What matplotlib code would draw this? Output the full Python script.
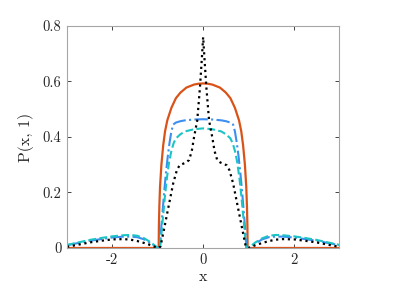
import numpy as np
import matplotlib
matplotlib.use("Agg")
import matplotlib.pyplot as plt

plt.rcParams['font.family'] = 'serif'
plt.rcParams['font.serif'] = ['cmr10', 'DejaVu Serif']
plt.rcParams['axes.formatter.use_mathtext'] = True

# side lobes (left half, x from -3 to -1), mirrored for x > 1
lobe_x = [-3.0, -2.75, -2.5, -2.25, -2.0, -1.75, -1.6, -1.45, -1.3, -1.15, -1.0]
lobe_cyan = [0.011, 0.020, 0.029, 0.036, 0.042, 0.046, 0.047, 0.044, 0.035, 0.020, 0.0]
lobe_blue = [0.010, 0.018, 0.026, 0.032, 0.038, 0.041, 0.041, 0.039, 0.031, 0.017, 0.0]
lobe_black = [0.004, 0.012, 0.020, 0.026, 0.031, 0.032, 0.030, 0.025, 0.018, 0.010, 0.0]

# central parts (left half, up to x = 0)
orange_x = [-3.0, -0.98, -0.975, -0.965, -0.95, -0.92, -0.88, -0.84, -0.79, -0.7,
            -0.6, -0.5, -0.37, -0.2, -0.1, 0.0]
orange_y = [0.0, 0.0, 0.08, 0.15, 0.22, 0.30, 0.37, 0.42, 0.46, 0.505,
            0.54, 0.56, 0.578, 0.589, 0.592, 0.593]

blue_x = [-0.955, -0.93, -0.9, -0.86, -0.82, -0.78, -0.74, -0.7, -0.66, -0.6, -0.5,
          -0.4, -0.2, 0.0]
blue_y = [0.0, 0.06, 0.12, 0.20, 0.27, 0.33, 0.38, 0.42, 0.445, 0.452, 0.457,
          0.460, 0.463, 0.464]

cyan_x = [-0.95, -0.92, -0.88, -0.84, -0.8, -0.75, -0.7, -0.65, -0.6, -0.5, -0.4,
          -0.2, 0.0]
cyan_y = [0.0, 0.05, 0.12, 0.19, 0.25, 0.31, 0.35, 0.378, 0.395, 0.41, 0.42,
          0.428, 0.431]

black_x = [-0.99, -0.94, -0.88, -0.77, -0.66, -0.58, -0.52, -0.45, -0.38, -0.31,
           -0.25, -0.2, -0.13, -0.07, -0.03, 0.0]
black_y = [0.0, 0.005, 0.053, 0.143, 0.233, 0.280, 0.298, 0.303, 0.308, 0.317,
           0.35, 0.40, 0.46, 0.58, 0.68, 0.76]


def full(xs, ys, lx=None, ly=None):
    xs, ys = list(xs), list(ys)
    if lx is not None:
        xs, ys = list(lx) + xs, list(ly) + ys
    x = np.array(xs)
    y = np.array(ys)
    return np.concatenate([x, -x[::-1][1:]]), np.concatenate([y, y[::-1][1:]])


fig = plt.figure(figsize=(4.07, 2.96), dpi=100)
ax = fig.add_axes([0.1646, 0.1622, 0.6691, 0.7500])

x, y = full(orange_x, orange_y)
ax.plot(x, y, color='#D95319', lw=1.6, solid_joinstyle='round')
x, y = full(blue_x, blue_y, lobe_x, lobe_blue)
ax.plot(x, y, '-.', color='#3D8EF0', lw=1.5)
x, y = full(cyan_x, cyan_y, lobe_x, lobe_cyan)
ax.plot(x, y, '--', color='#1CC4C4', lw=1.5)
x, y = full(black_x, black_y, lobe_x, lobe_black)
ax.plot(x, y, ':', color='black', lw=1.6)

ax.set_xlim(-3, 3)
ax.set_ylim(0, 0.8)
ax.set_xticks([-2, 0, 2])
ax.set_xticklabels(['-2', '0', '2'])
ax.set_yticks([0, 0.2, 0.4, 0.6, 0.8])
ax.set_yticklabels(['0', '0.2', '0.4', '0.6', '0.8'])
ax.tick_params(direction='in', length=3, width=0.6, colors='#262626',
               top=True, right=True, labelsize=10.5, pad=4)
for s in ax.spines.values():
    s.set_color('#a6a6a6')
    s.set_linewidth(0.8)
ax.set_xlabel('x', fontsize=11.5, color='#262626', labelpad=2)
ax.set_ylabel('P(x, 1)', fontsize=11.5, color='#262626', labelpad=6)

fig.savefig('out.png', dpi=100)
